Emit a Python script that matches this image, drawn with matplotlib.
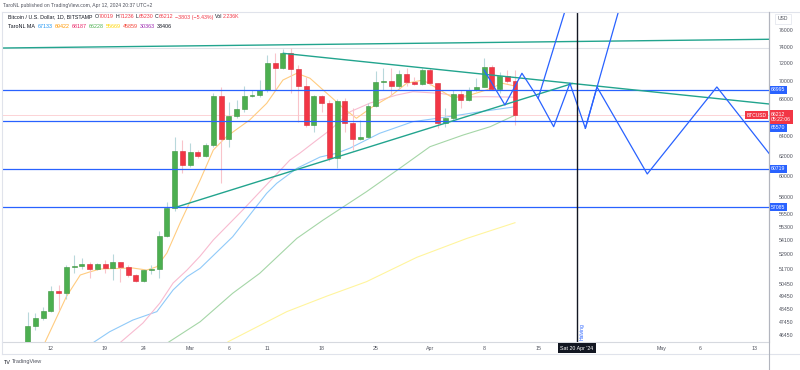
import numpy as np
import pandas as pd
import matplotlib
matplotlib.use("Agg")
import matplotlib.pyplot as plt
from matplotlib.ticker import FixedLocator, FixedFormatter, NullLocator
from matplotlib.lines import Line2D

plt.rcParams['font.family'] = ['Liberation Sans', 'DejaVu Sans']

# daily candles BTCUSD (Bitstamp), first candle 2024-02-09
start = pd.Timestamp('2024-02-09')
opens = [45300, 47110, 47730, 48270, 49880, 49670, 51800, 51910, 52100, 51630,
         52080, 51720, 52220, 51800, 51160, 50670, 51570, 51680, 54490, 57050,
         62500, 61110, 62370, 61970, 63080, 68350, 63730, 66110, 66890, 68310,
         68420, 68980, 72090, 71480, 73190, 71320, 69430, 65190, 68310, 67580,
         61830, 67800, 65430, 63760, 63940, 67220, 69910, 69990, 69430, 70790,
         69840, 69620, 71250, 69730, 65430, 65960, 68540, 67870, 68980, 69350,
         71630, 69060, 70590, 70019]
highs = [48190, 48110, 48610, 50260, 50340, 51990, 52840, 52560, 52270, 52130,
         52410, 52930, 52270, 51990, 51270, 51630, 51990, 54930, 57590, 63970,
         63630, 63300, 62610, 63300, 68610, 69350, 67690, 67870, 69440, 68980,
         70100, 72990, 73190, 73670, 73794, 71820, 70480, 68420, 68420, 67870,
         67950, 68060, 66970, 65720, 67500, 71100, 71500, 71500, 71250, 71440,
         70480, 71440, 71440, 69800, 66970, 68980, 68980, 69350, 70300, 72600,
         71820, 71050, 71250, 71236]
lows = [45250, 46810, 47570, 48220, 48350, 49210, 51350, 51660, 50910, 51550,
        51350, 50750, 50610, 51020, 50560, 50610, 51280, 50910, 54370, 56760,
        60320, 60910, 61770, 61870, 62940, 59330, 62890, 65910, 66600, 68230,
        68240, 68790, 68980, 71320, 68610, 65540, 64990, 64490, 66600, 61530,
        60780, 64490, 62610, 63630, 63800, 67110, 68980, 68310, 69150, 69450,
        69540, 69540, 69540, 64840, 64990, 65720, 66970, 67760, 68900, 69290,
        68980, 68600, 69730, 65230]
closes = [47110, 47730, 48270, 49880, 49670, 51800, 51910, 52100, 51630, 52080,
          51720, 52220, 51800, 51160, 50670, 51570, 51680, 54490, 57050, 62500,
          61110, 62370, 61970, 63080, 68350, 63730, 66110, 66890, 68310, 68420,
          68980, 72090, 71480, 73190, 71320, 69430, 65190, 68310, 67580, 61830,
          67800, 65430, 63730, 63940, 67220, 69910, 69990, 69430, 70790, 69840,
          69620, 71250, 69730, 65430, 65960, 68540, 67870, 68980, 69350, 71630,
          69060, 70590, 70019, 66212]

# moving averages (day offset from first candle, price)
ma_orange_x = [2.2, 5.0, 6.8, 8.1, 9.4, 13.6, 15.4, 16.7, 18.0, 19.7, 22.3, 24.0, 25.7,
               28.7, 30.9, 33.0, 34.8, 36.5, 38.2, 39.9, 40.8, 42.5, 44.6, 46.8, 49.0,
               51.1, 53.3, 55.0, 57.2, 59.3, 61.4, 63.0]
ma_orange_y = [45840, 49400, 51160, 51430, 51660, 51740, 51570, 51850, 53010, 55640,
               59640, 62610, 63970, 65720, 67510, 70100, 70870, 70300, 68980, 67690,
               67000, 65900, 67140, 68240, 69730, 70100, 68980, 68100, 68420, 68980,
               69730, 69422]
ma_pink_x = [11.9, 14.9, 17.1, 18.8, 20.6, 22.3, 24.0, 27.8, 33.9, 35.2, 37.4, 39.1,
             41.7, 44.3, 47.7, 49.8, 53.3, 56.3, 59.3, 63.0]
ma_pink_y = [45840, 47340, 48900, 50500, 51570, 52750, 54140, 56820, 61600, 62300,
             63630, 64660, 66600, 67550, 68420, 68790, 68610, 68200, 68240, 68187]
ma_blue_x = [8.4, 10.6, 13.6, 16.7, 18.8, 20.6, 22.3, 26.5, 30.9, 32.2, 34.8, 37.8,
             39.9, 41.7, 45.5, 49.8, 54.2, 58.5, 63.0]
ma_blue_y = [45840, 46680, 47570, 48220, 49940, 51020, 51720, 54420, 58380, 59330,
             60780, 61900, 62270, 62810, 64320, 65540, 66040, 66600, 67133]
ma_green_x = [18.0, 22.3, 26.5, 30.0, 34.8, 38.2, 43.8, 48.1, 52.0, 56.3, 59.8, 63.0]
ma_green_y = [45820, 47440, 49670, 51300, 54280, 55910, 58530, 60780, 62940, 64140,
              65010, 66228]
ma_yellow_x = [25.9, 33.5, 38.7, 43.8, 50.3, 56.8, 63.0]
ma_yellow_y = [45930, 48220, 49450, 50610, 52640, 54280, 55669]

# drawings
levels = [68995, 65570, 60719, 57085]
ath = 73794
last_price = 66212
top_line_x, top_line_y = [-3.32, 95.84], [73820, 74870]
desc_line_x, desc_line_y = [33.05, 95.84], [73190, 67440]
asc_line_x, asc_line_y = [19.04, 70.4], [57050, 69700]
zz_x = [59.0, 61.7, 63.9, 66.0, 68.0, 70.1, 72.1, 73.6, 80.1, 89.1, 95.84]
zz_y = [71250, 67330, 70870, 68060, 65010, 69730, 64840, 69320, 60230, 69320, 62270]
branch1_x, branch1_y = [66.0, 69.9], [68060, 79770]
branch2_x, branch2_y = [72.1, 76.8], [64840, 79770]
halving_date = '2024-04-20'

yticks = [76000, 74000, 72000, 70000, 68000, 64000, 62000, 60000, 58000, 56500,
          55300, 54100, 52900, 51700, 50450, 49450, 48450, 47450, 46450]
xtick_dates = ['2024-02-12', '2024-02-19', '2024-02-24', '2024-03-01', '2024-03-06',
               '2024-03-11', '2024-03-18', '2024-03-25', '2024-04-01', '2024-04-08',
               '2024-04-15', '2024-05-01', '2024-05-06', '2024-05-13']
xtick_labels = ['12', '19', '24', 'Mar', '6', '11', '18', '25', 'Apr', '8', '15',
                'May', '6', '13']

W, H = 800, 370
fig = plt.figure(figsize=(8, 3.7), dpi=100)
ax = fig.add_axes([2 / W, 1 - 342 / H, 767 / W, 330 / H])
ax.set_yscale('log')
ax.set_xlim(-3.32, 95.84)
ax.set_ylim(45912, 78243)

o = np.array(opens, float)
h = np.array(highs, float)
l = np.array(lows, float)
c = np.array(closes, float)
days = np.arange(len(o))
up = c >= o
bot = np.minimum(o, c)
hgt = np.maximum(np.abs(c - o), bot * 0.0012)

ax.vlines(days[up], l[up], h[up], color='#b8d8db', lw=0.8, zorder=3)
ax.vlines(days[~up], l[~up], h[~up], color='#f9c4ca', lw=0.8, zorder=3)
ax.bar(days[up], hgt[up], bottom=bot[up], width=0.64, color='#4caf50',
       edgecolor='#3d9440', lw=0.4, zorder=4)
ax.bar(days[~up], hgt[~up], bottom=bot[~up], width=0.64, color='#f23645',
       edgecolor='#d92b3a', lw=0.4, zorder=4)

ax.plot(ma_yellow_x, ma_yellow_y, color='#fff59d', lw=0.8, zorder=2)
ax.plot(ma_green_x, ma_green_y, color='#a5d6a7', lw=0.8, zorder=2)
ax.plot(ma_blue_x, ma_blue_y, color='#90caf9', lw=0.8, zorder=2)
ax.plot(ma_pink_x, ma_pink_y, color='#f8bbd0', lw=0.8, zorder=2)
ax.plot(ma_orange_x, ma_orange_y, color='#ffcc80', lw=0.8, zorder=2)

for v in levels:
    ax.axhline(v, color='#2962ff', lw=0.9, zorder=5)
ax.axhline(ath, color='#dfe2e8', lw=0.8, zorder=1)
ax.axhline(last_price, color='#f23645', lw=0.6, alpha=0.25, zorder=1)

teal = '#22a48e'
ax.plot(top_line_x, top_line_y, color=teal, lw=1.0, zorder=5)
ax.plot(desc_line_x, desc_line_y, color=teal, lw=1.0, zorder=5)
ax.plot(asc_line_x, asc_line_y, color=teal, lw=1.0, zorder=5)

ax.plot(zz_x, zz_y, color='#2962ff', lw=0.9, zorder=6)
ax.plot(branch1_x, branch1_y, color='#2962ff', lw=0.9, zorder=6)
ax.plot(branch2_x, branch2_y, color='#2962ff', lw=0.9, zorder=6)

hv = (pd.Timestamp(halving_date) - start).days
ax.axvline(hv, color='#131722', lw=1.0, zorder=6)
ax.text(hv + 0.35, 46080, 'Halving', rotation=90, color='#2962ff', fontsize=3.6,
        ha='left', va='bottom', zorder=6)

# axes styling
for s in ['top', 'left']:
    ax.spines[s].set_visible(False)
ax.spines['bottom'].set_color('#d6d9df')
ax.spines['bottom'].set_linewidth(0.8)
ax.spines['right'].set_color('#b2b5be')
ax.spines['right'].set_linewidth(0.8)

ax.yaxis.tick_right()
ax.yaxis.set_major_locator(FixedLocator(yticks))
ax.yaxis.set_major_formatter(FixedFormatter([str(v) for v in yticks]))
ax.yaxis.set_minor_locator(NullLocator())
ax.tick_params(axis='y', length=0, pad=7, labelsize=3.8, labelcolor='#50535e')

xt = [(pd.Timestamp(d) - start).days for d in xtick_dates]
ax.xaxis.set_major_locator(FixedLocator(xt))
ax.xaxis.set_major_formatter(FixedFormatter(xtick_labels))
ax.xaxis.set_minor_locator(NullLocator())
ax.tick_params(axis='x', length=0, pad=3.2, labelsize=3.8, labelcolor='#50535e')

# price-axis labels
def axis_tag(price, text, fc, dy=0.0):
    ax.annotate(text, xy=(1, price), xycoords=('axes fraction', 'data'),
                xytext=(1.6, dy), textcoords='offset points', ha='left', va='center',
                fontsize=3.7, color='white', zorder=10, annotation_clip=False,
                bbox=dict(boxstyle='square,pad=0.3', fc=fc, ec='none'))

axis_tag(68995, '68995', '#2962ff')
axis_tag(65570, '65570', '#2962ff', dy=-4.5)
axis_tag(60719, '60719', '#2962ff')
axis_tag(57085, '57085', '#2962ff')
axis_tag(last_price, '66212\n05:22:06', '#f23645', dy=-1.2)
ax.annotate('BTCUSD', xy=(1, last_price), xycoords=('axes fraction', 'data'),
            xytext=(-1.5, 0), textcoords='offset points', ha='right', va='center',
            fontsize=3.5, color='white', zorder=10,
            bbox=dict(boxstyle='square,pad=0.3', fc='#f23645', ec='none'))
ax.annotate("Sat 20 Apr '24", xy=(hv, 0), xycoords=('data', 'axes fraction'),
            xytext=(0, -4.4), textcoords='offset points', ha='center', va='center',
            fontsize=3.8, color='white', zorder=10, annotation_clip=False,
            bbox=dict(boxstyle='square,pad=0.45', fc='#131722', ec='none'))

# frame lines of the TradingView layout
fig.add_artist(Line2D([2 / W, 1], [1 - 12 / H] * 2, color='#e0e3eb', lw=0.8))
fig.add_artist(Line2D([2 / W, 1], [1 - 354 / H] * 2, color='#e0e3eb', lw=0.8))
fig.add_artist(Line2D([769 / W] * 2, [0, 1 - 12 / H], color='#b2b5be', lw=0.8))
fig.add_artist(Line2D([2 / W] * 2, [1 - 354 / H, 1 - 12 / H], color='#e0e3eb', lw=0.8))
fig.text(783 / W, 1 - 19 / H, 'USD', fontsize=3.6, color='#50535e', ha='center',
         va='center', bbox=dict(boxstyle='square,pad=0.5', fc='white', ec='#e0e3eb', lw=0.5))

renderer = fig.canvas.get_renderer()

def runs(x, y, parts, size):
    for text, col, gap in parts:
        t = fig.text(x / W, 1 - y / H, text, color=col, fontsize=size, ha='left',
                     va='center')
        x += t.get_window_extent(renderer=renderer).width + gap

dark = '#131722'
red = '#f23645'
runs(3, 5, [('TaroNL published on TradingView.com, Apr 12, 2024 20:37 UTC+2', '#50535e', 0)], 3.6)
runs(8, 17, [('Bitcoin / U.S. Dollar, 1D, BITSTAMP', dark, 2.5),
             ('O', dark, 0.2), ('70019', red, 1.6), ('H', dark, 0.2), ('71236', red, 1.6),
             ('L', dark, 0.2), ('65230', red, 1.6), ('C', dark, 0.2), ('66212', red, 1.6),
             ('\u22123803 (\u22125.43%)', red, 1.6), ('Vol', dark, 0.2), ('2.236K', red, 0)], 3.8)
runs(8, 26, [('TaroNL MA', dark, 2.5), ('67133', '#2196f3', 2), ('69422', '#ff9800', 2),
             ('68187', '#e91e63', 2), ('66228', '#4caf50', 2), ('55669', '#ffd600', 2),
             ('45859', '#f44336', 2), ('30363', '#9c27b0', 2), ('33406', dark, 0)], 3.9)
runs(4, 362, [('TV', dark, 1.5), ('TradingView', '#50535e', 0)], 4.0)

fig.savefig('out.png', dpi=100)
